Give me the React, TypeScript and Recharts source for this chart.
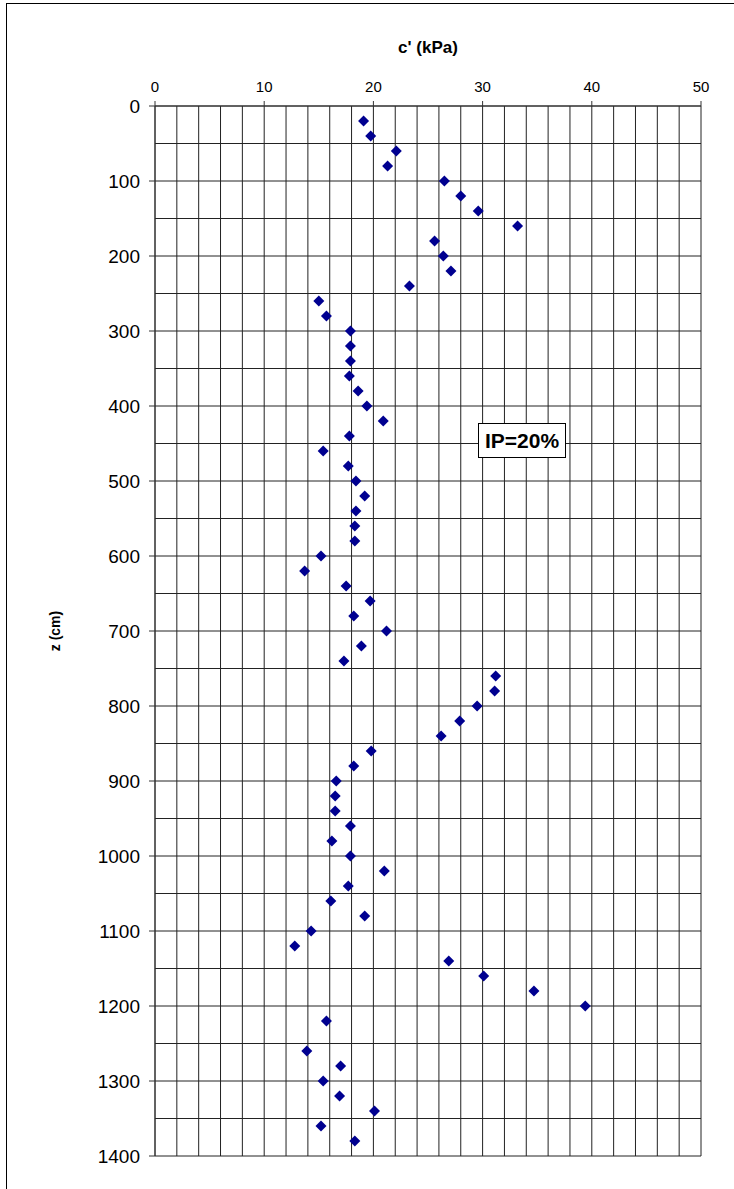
import { ScatterChart, Scatter, XAxis, YAxis, ReferenceLine } from "recharts";

// depth (cm) and effective cohesion c' (kPa) for each sample
const depths = [
  20, 40, 60, 80, 100, 120, 140, 160, 180, 200, 220, 240, 260, 280, 300, 320, 340, 360, 380, 400,
  420, 440, 460, 480, 500, 520, 540, 560, 580, 600, 620, 640, 660, 680, 700, 720, 740, 760, 780, 800,
  820, 840, 860, 880, 900, 920, 940, 960, 980, 1000, 1020, 1040, 1060, 1080, 1100, 1120, 1140, 1160, 1180, 1200,
  1220, 1260, 1280, 1300, 1320, 1340, 1360, 1380,
];
const cohesion = [
  19.1, 19.75, 22.1, 21.3, 26.5, 28.0, 29.6, 33.2, 25.6, 26.4, 27.1, 23.3, 15.0, 15.7, 17.9, 17.9, 17.9, 17.8, 18.6, 19.4,
  20.9, 17.8, 15.4, 17.7, 18.4, 19.2, 18.4, 18.3, 18.3, 15.2, 13.7, 17.5, 19.7, 18.2, 21.2, 18.9, 17.3, 31.2, 31.1, 29.5,
  27.9, 26.2, 19.8, 18.2, 16.6, 16.5, 16.5, 17.9, 16.2, 17.9, 21.0, 17.7, 16.1, 19.2, 14.3, 12.8, 26.9, 30.1, 34.7, 39.4,
  15.7, 13.9, 17.0, 15.4, 16.9, 20.1, 15.2, 18.3,
];

const xTicks = [0, 10, 20, 30, 40, 50];
const yTicks = [0, 100, 200, 300, 400, 500, 600, 700, 800, 900, 1000, 1100, 1200, 1300, 1400];
const xGrid = Array.from({ length: 26 }, (_, i) => i * 2);
const yGrid = Array.from({ length: 29 }, (_, i) => i * 50);

const data = depths.map((z, i) => ({ c: cohesion[i], z }));

const FONT = "Arial, 'Liberation Sans', sans-serif";
const GRID = "#222";

const Diamond = (props: any) => {
  const { cx, cy } = props;
  const r = 5.5;
  return <polygon points={`${cx},${cy - r} ${cx + r},${cy} ${cx},${cy + r} ${cx - r},${cy}`} fill="#000090" />;
};

const App = () => {
  return (
    <div style={{ position: "absolute", left: 0, top: 0, width: 734, height: 1189, background: "#fff" }}>
      <div style={{ position: "absolute", left: 6, top: 3, right: 0, bottom: 0, borderLeft: "1.5px solid #000", borderTop: "1.5px solid #000" }} />
      <ScatterChart width={734} height={1189} margin={{ top: 76, right: 33, bottom: 33, left: 95 }} style={{ position: "absolute", left: 0, top: 0 }}>
        {xGrid.map((v) => (
          <ReferenceLine key={`x${v}`} x={v} stroke={GRID} strokeWidth={1} />
        ))}
        {yGrid.map((v) => (
          <ReferenceLine key={`y${v}`} y={v} stroke={GRID} strokeWidth={1} />
        ))}
        <XAxis
          type="number"
          dataKey="c"
          orientation="top"
          domain={[0, 50]}
          ticks={xTicks}
          height={30}
          axisLine={{ stroke: "#333" }}
          tickLine={{ stroke: "#333" }}
          tickSize={5}
          tickMargin={9}
          tick={{ fontSize: 15, fill: "#000", fontFamily: FONT }}
          label={{ value: "c' (kPa)", position: "top", offset: 23, fontSize: 17, fontWeight: "bold", fill: "#000", fontFamily: FONT }}
        />
        <YAxis
          type="number"
          dataKey="z"
          reversed
          domain={[0, 1400]}
          ticks={yTicks}
          width={60}
          axisLine={{ stroke: "#333" }}
          tickLine={{ stroke: "#333" }}
          tickSize={6}
          tickMargin={9}
          tick={{ fontSize: 19, fill: "#000", fontFamily: FONT }}
          label={{
            content: ({ viewBox }: any) => {
              const x = viewBox.x - 40;
              const y = viewBox.y + viewBox.height / 2;
              return (
                <text x={x} y={y} transform={`rotate(-90 ${x} ${y})`} textAnchor="middle" dominantBaseline="central" fontSize={14} fontWeight="bold" fontFamily={FONT} fill="#000">
                  z (cm)
                </text>
              );
            },
          }}
        />
        <Scatter data={data} shape={<Diamond />} isAnimationActive={false} />
      </ScatterChart>
      <div
        style={{
          position: "absolute",
          left: 478,
          top: 423,
          width: 88,
          height: 35,
          border: "1px solid #000",
          background: "#fff",
          fontFamily: FONT,
          fontWeight: "bold",
          fontSize: 21,
          display: "flex",
          alignItems: "center",
          justifyContent: "center",
          boxSizing: "border-box",
        }}
      >
        IP=20%
      </div>
    </div>
  );
};

export default App;
